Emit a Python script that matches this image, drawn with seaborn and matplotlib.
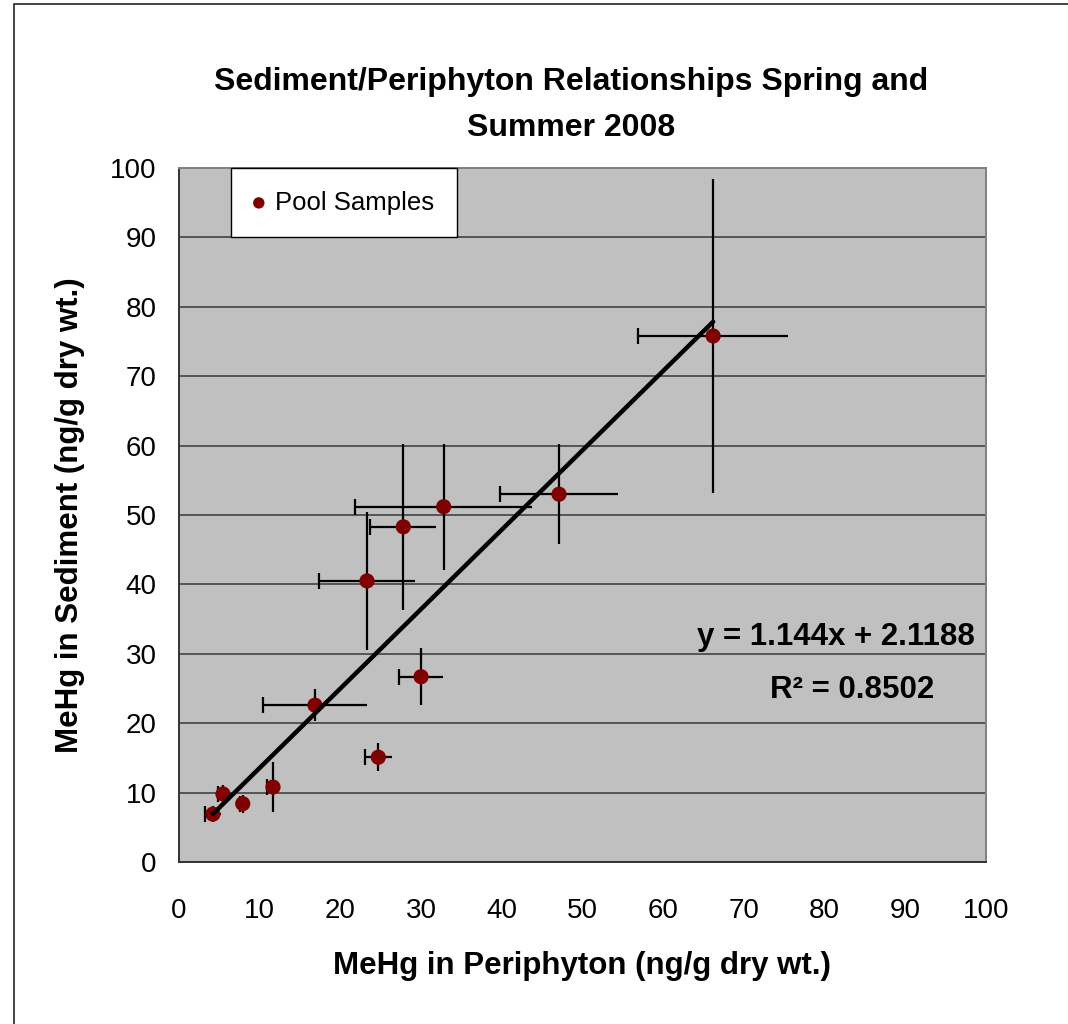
import numpy as np
import pandas as pd
import matplotlib
matplotlib.use("Agg")
import matplotlib.pyplot as plt
from matplotlib.patches import Rectangle
import seaborn as sns

# MeHg concentrations per pool (ng/g dry wt.)
periphyton = [66.2, 47.1, 32.8, 27.8, 23.3, 30.0, 16.85, 24.7, 11.65, 5.45, 7.9, 4.2]
sediment = [75.8, 53.0, 51.2, 48.3, 40.5, 26.7, 22.6, 15.1, 10.8, 9.8, 8.4, 6.9]
periphyton_err = [9.3, 7.35, 10.95, 4.1, 6.0, 2.7, 6.4, 1.65, 0.7, 0.6, 0.3, 1.0]
sediment_err = [22.6, 7.2, 9.1, 12.0, 10.0, 4.1, 2.3, 2.05, 3.6, 1.3, 1.3, 1.2]

# Linear trendline fitted in the spreadsheet
slope = 1.144
intercept = 2.1188
r_squared = 0.8502

ticks = list(range(0, 101, 10))

sns.set_style("white")
plt.rcParams["font.family"] = ["Liberation Sans", "DejaVu Sans"]
plt.rcParams["text.color"] = "black"
plt.rcParams["axes.labelcolor"] = "black"
plt.rcParams["xtick.color"] = "black"
plt.rcParams["ytick.color"] = "black"

df = pd.DataFrame({"periphyton": periphyton, "sediment": sediment,
                   "xerr": periphyton_err, "yerr": sediment_err})

fig = plt.figure(figsize=(10.68, 10.24), dpi=100)
ax = fig.add_axes([0.1676, 0.1582, 0.7555, 0.6777])
ax.set_facecolor("#C0C0C0")

# error bars: vertical plain, horizontal with a cap on the low side only
ax.errorbar(df["periphyton"], df["sediment"], yerr=df["yerr"], fmt="none",
            ecolor="black", elinewidth=1.6, capsize=0, zorder=3)
ax.errorbar(df["periphyton"], df["sediment"], xerr=df["xerr"], fmt="none",
            ecolor="black", elinewidth=1.6, capsize=0, zorder=3)
ax.plot(df["periphyton"] - df["xerr"], df["sediment"], linestyle="none",
        marker="|", markersize=11, markeredgewidth=1.6, color="black", zorder=3)

sns.scatterplot(data=df, x="periphyton", y="sediment", color="#800000", s=120,
                edgecolor="none", label="Pool Samples", zorder=4, ax=ax)

# trendline across the range of the data
xs = np.array([min(periphyton), max(periphyton)])
ax.plot(xs, slope * xs + intercept, color="black", linewidth=3.2, zorder=5)

ax.text(81.4, 32.4, f"y = {slope}x + {intercept}", ha="center", va="center",
        fontsize=22.5, fontweight="bold", zorder=6)
ax.text(83.4, 24.8, f"R² = {r_squared}", ha="center", va="center",
        fontsize=22.5, fontweight="bold", zorder=6)

ax.set_xlim(0, 100)
ax.set_ylim(0, 100)
ax.set_xticks(ticks)
ax.set_yticks(ticks)
ax.tick_params(axis="both", which="major", direction="out", length=7, width=1.2,
               color="#333333", labelsize=20, pad=9)
ax.tick_params(axis="x", pad=19)
ax.yaxis.grid(True, color="#555555", linewidth=1.4)
ax.xaxis.grid(False)
ax.set_axisbelow(True)
for side in ["left", "bottom"]:
    ax.spines[side].set_color("#333333")
    ax.spines[side].set_linewidth(1.4)
for side in ["top", "right"]:
    ax.spines[side].set_color("#808080")
    ax.spines[side].set_linewidth(1.4)

ax.set_xlabel("MeHg in Periphyton (ng/g dry wt.)", fontsize=22.5,
              fontweight="bold", labelpad=19)
ax.set_ylabel("MeHg in Sediment (ng/g dry wt.)", fontsize=22.5,
              fontweight="bold", labelpad=18)

leg = ax.legend(loc="upper left", bbox_to_anchor=(0.0645, 1.0), borderaxespad=0,
                frameon=True, fancybox=False, framealpha=1, fontsize=18.5,
                handletextpad=0.43, borderpad=0.88, handlelength=0.4,
                markerscale=0.75)
leg.get_frame().set_edgecolor("black")
leg.get_frame().set_linewidth(1.0)
leg.set_zorder(7)

fig.text(0.535, 1 - 105 / 1024,
         "Sediment/Periphyton Relationships Spring and\nSummer 2008",
         ha="center", va="center", fontsize=23, fontweight="bold",
         linespacing=1.68)

# outer chart border
fig.add_artist(Rectangle((14 / 1068, -0.1), 1.2, 1.0961, transform=fig.transFigure,
                         fill=False, edgecolor="#222222", linewidth=1.2,
                         clip_on=False))

fig.savefig("out.png", dpi=100)
